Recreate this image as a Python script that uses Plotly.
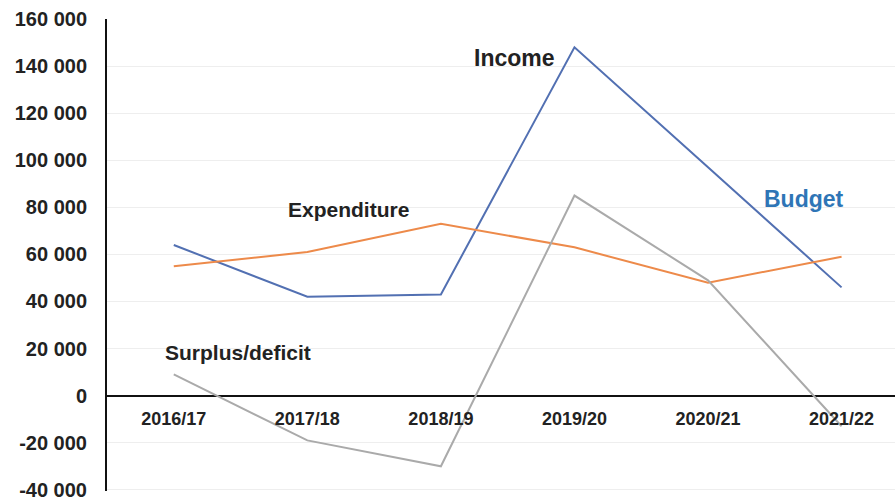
import plotly.graph_objects as go

years = ["2016/17", "2017/18", "2018/19", "2019/20", "2020/21", "2021/22"]
income = [64000, 42000, 43000, 148000, 97000, 46000]
expenditure = [55000, 61000, 73000, 63000, 48000, 59000]
surplus = [9000, -19000, -30000, 85000, 49000, -13000]

ytick_vals = [-40000, -20000, 0, 20000, 40000, 60000, 80000, 100000, 120000, 140000, 160000]
ytick_text = ["-40 000", "-20 000", "0", "20 000", "40 000", "60 000", "80 000",
              "100 000", "120 000", "140 000", "160 000"]

FONT = "Liberation Sans, Arial, sans-serif"

fig = go.Figure()
fig.add_trace(go.Scatter(x=years, y=income, mode="lines", name="Income",
                         line=dict(color="#5270b2", width=2)))
fig.add_trace(go.Scatter(x=years, y=expenditure, mode="lines", name="Expenditure",
                         line=dict(color="#ed8a4a", width=2)))
fig.add_trace(go.Scatter(x=years, y=surplus, mode="lines", name="Surplus/deficit",
                         line=dict(color="#aaaaaa", width=2)))

labels = [
    ("Income", 2.55, 143600, "#222222", 23),
    ("Expenditure", 1.305, 79200, "#222222", 21),
    ("Surplus/deficit", 0.48, 18200, "#222222", 21),
    ("Budget", 4.72, 83500, "#2e75b6", 23),
]
for text, xv, yv, col, sz in labels:
    fig.add_annotation(x=xv, y=yv, xref="x", yref="y", text=f"<b>{text}</b>",
                       showarrow=False, font=dict(family=FONT, size=sz, color=col),
                       xanchor="center", yanchor="middle")

fig.update_layout(
    width=895, height=501,
    margin=dict(l=107, r=0, t=19, b=8),
    paper_bgcolor="white", plot_bgcolor="white",
    showlegend=False,
    font=dict(family=FONT, color="#222222"),
)
fig.update_xaxes(
    type="category", range=[-0.5, 5.4],
    anchor="free", position=(0 + 40500) / 200500,
    showline=False, showgrid=False, zeroline=False, ticks="",
    tickfont=dict(family=FONT, size=18, color="#222222", weight="bold"),
    ticklabelstandoff=10,
)
fig.update_yaxes(
    range=[-40500, 160000],
    tickvals=ytick_vals, ticktext=ytick_text,
    showline=True, linecolor="#111111", linewidth=2,
    showgrid=True, gridcolor="#eeeeee", gridwidth=1,
    zeroline=True, zerolinecolor="#111111", zerolinewidth=2,
    ticks="",
    tickfont=dict(family=FONT, size=20, color="#222222", weight="bold"),
    ticklabelstandoff=14,
    ticklabeloverflow="allow",
)

fig.write_html("out.html")
